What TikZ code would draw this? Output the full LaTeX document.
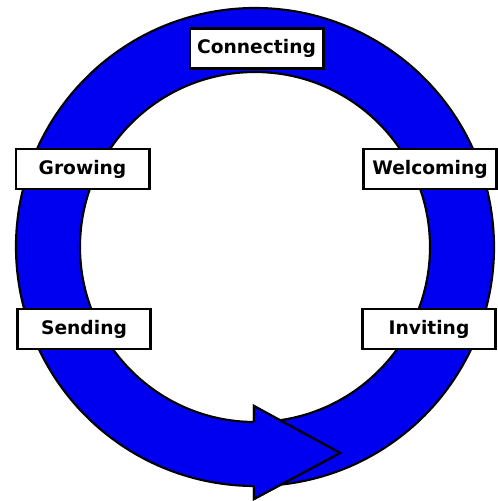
\documentclass[tikz,border=0pt]{standalone}
\usepackage{fontspec}
\setmainfont{DejaVu Sans}
\usetikzlibrary{calc}
\definecolor{ringblue}{RGB}{0,0,240}
\begin{document}
\begin{tikzpicture}[x=0.75pt,y=-0.75pt,
  label box/.style={draw=black,line width=2pt,fill=white,minimum width=100pt,minimum height=30pt,inner sep=0pt,font=\fontsize{14pt}{16pt}\selectfont\bfseries},
  ring/.style={fill=ringblue,draw=black,line width=1.6pt,line join=miter}]
\useasboundingbox (0,0) rectangle (498,501);
\coordinate (c) at (255,247);
% ring with arrow head
\draw[ring] ($(c)+(84:239)$) arc[start angle=84,end angle=-270,radius=239]
  -- (254,486) -- (254,499) -- (340,453) -- (254,406) -- (254,422)
  -- ($(c)+(90:175)$) arc[start angle=-270,end angle=84,radius=175] -- cycle;
% arrow head drawn again over the tail
\fill[ringblue] (254,406) -- (340,453) -- (254,499) -- cycle;
\draw[line width=1.6pt,line join=miter] (254,422) -- (254,406) -- (340,453) -- (254,499) -- (254,486);
\node[label box] (connecting) at (256.5,48.5) {Connecting};
\node[label box] (growing) at (82.5,169) {Growing};
\node[label box] (welcoming) at (430,169) {Welcoming};
\node[label box] (sending) at (84,329) {Sending};
\node[label box] (inviting) at (429,329) {Inviting};
\end{tikzpicture}
\end{document}
